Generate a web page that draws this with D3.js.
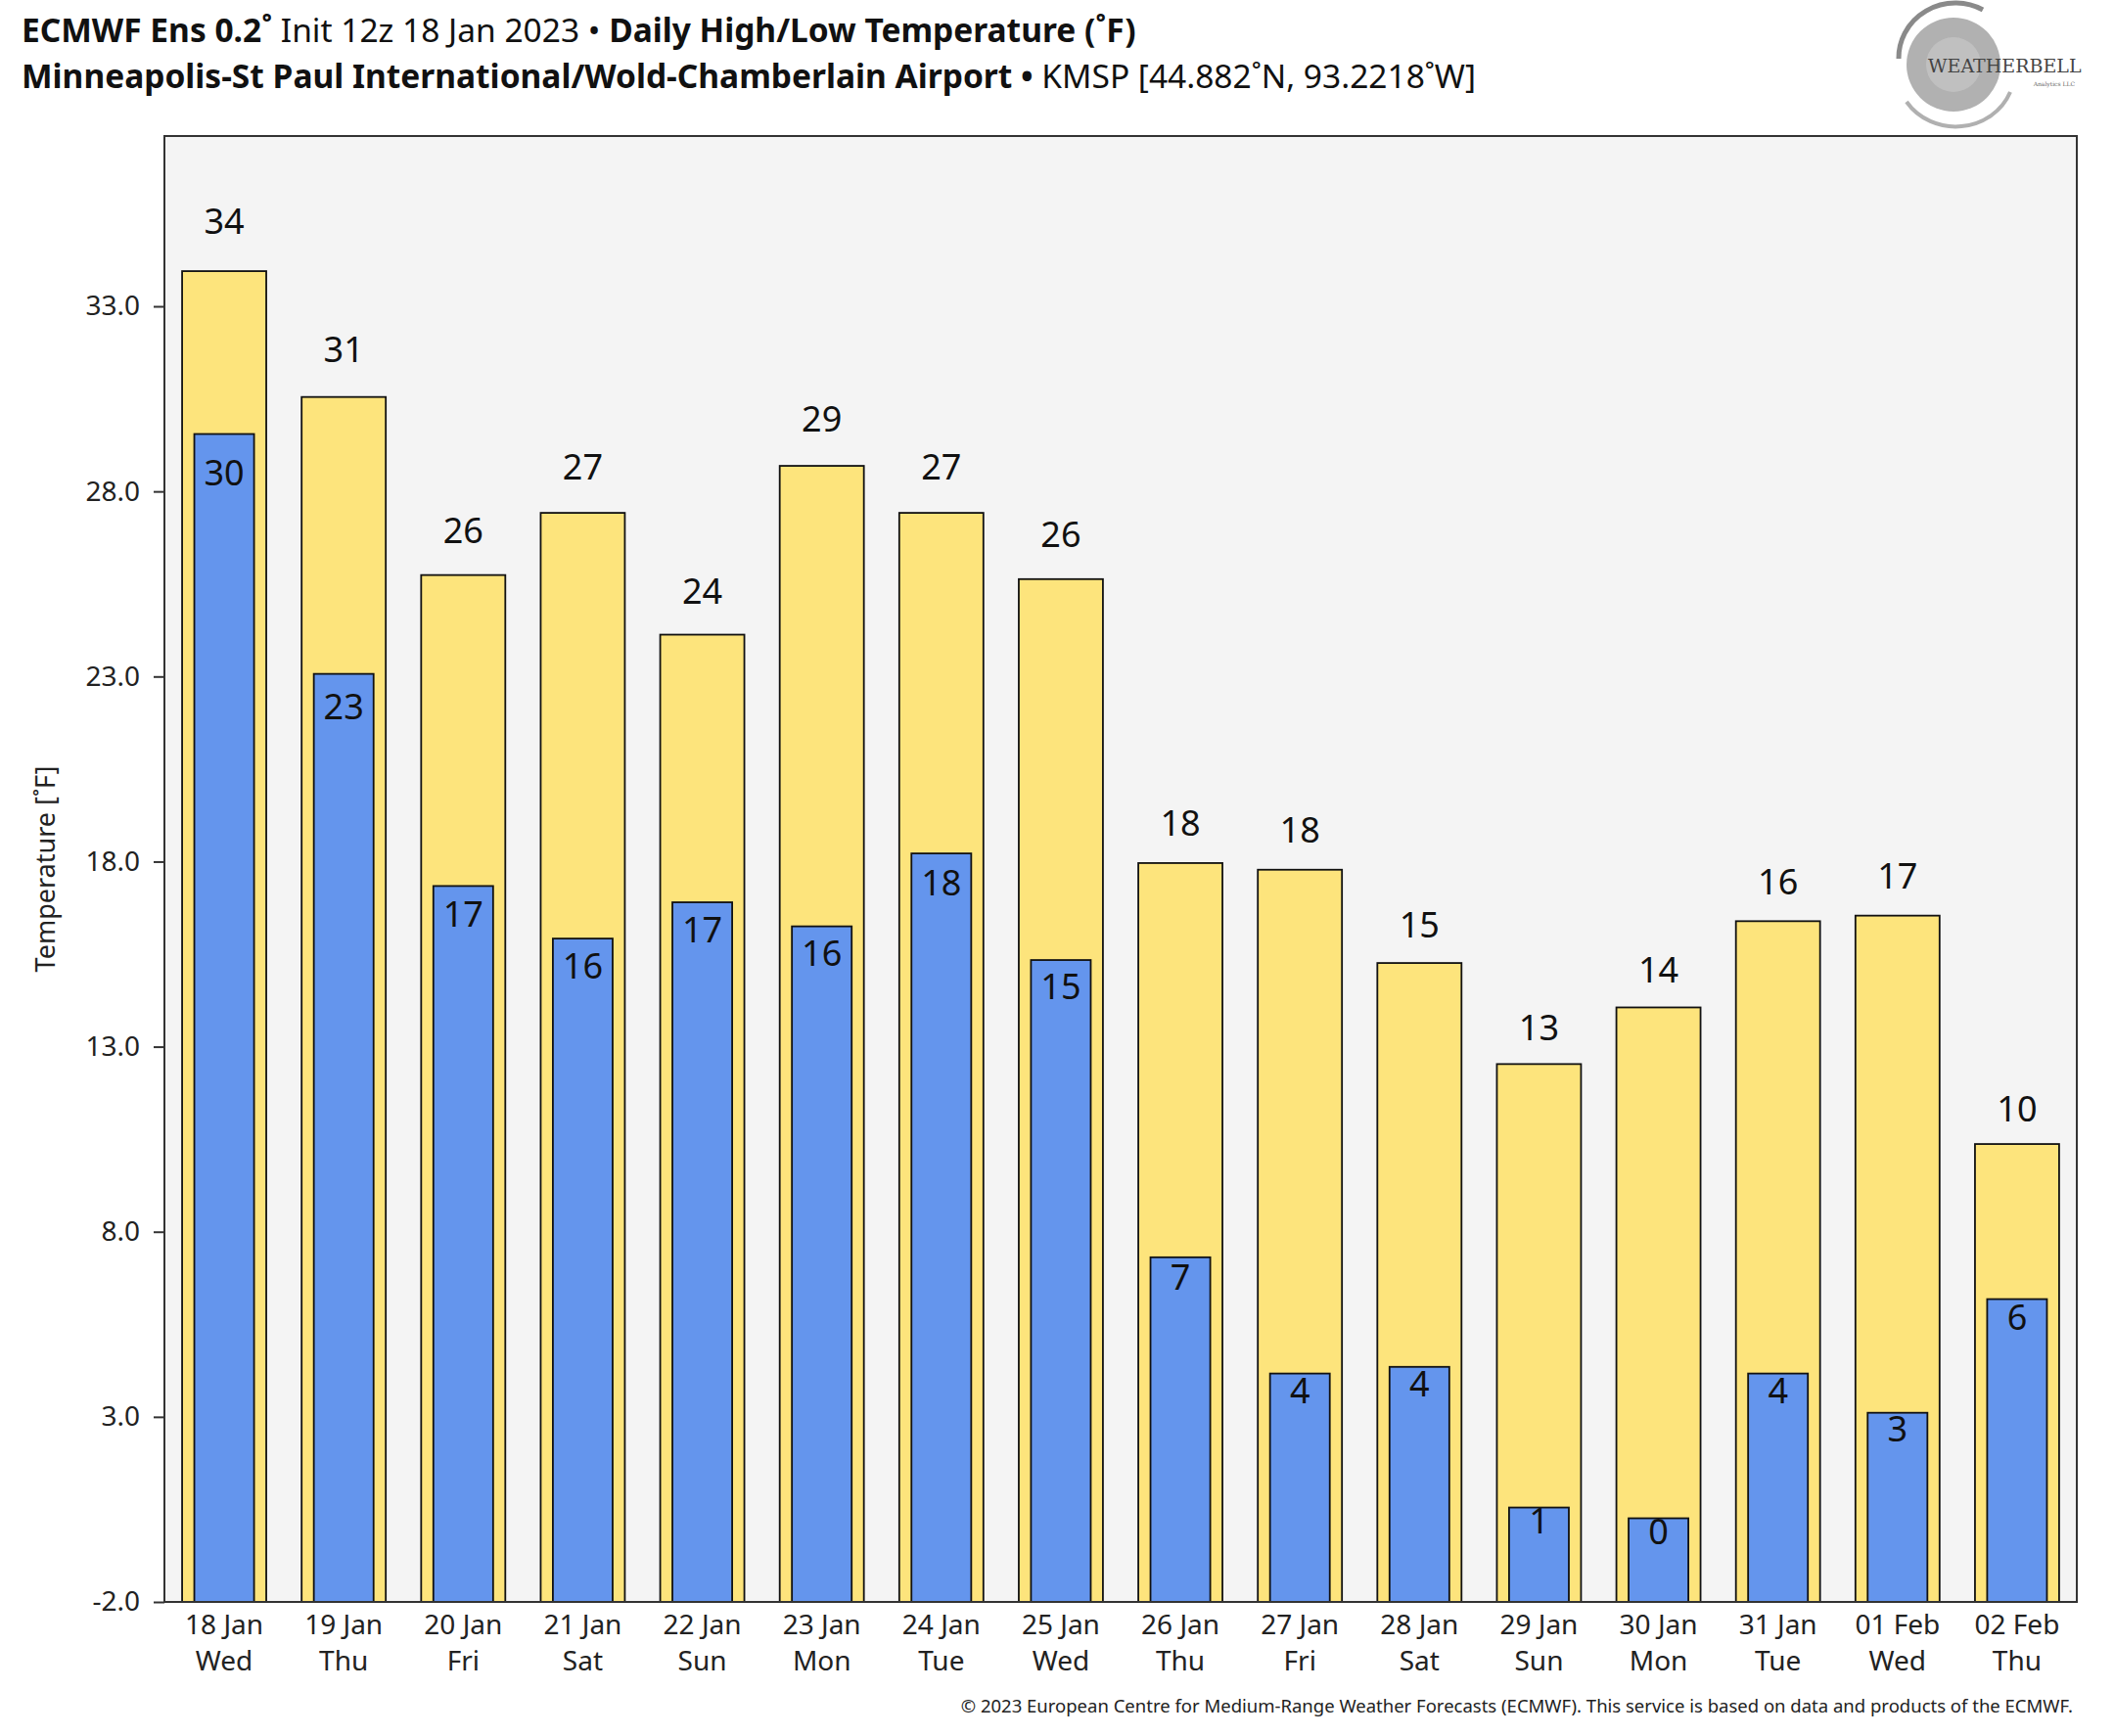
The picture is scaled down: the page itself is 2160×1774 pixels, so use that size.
<!DOCTYPE html>
<html>
<head>
<meta charset="utf-8">
<script src="https://cdn.jsdelivr.net/npm/d3@7"></script>
<style>
  html, body { margin: 0; padding: 0; background: #fff; }
  svg { display: block; font-family: 'Noto Sans', sans-serif; }
</style>
</head>
<body>
<svg id="chart" width="2160" height="1774"></svg>
<script>
// chart values
const dates = ['18 Jan', '19 Jan', '20 Jan', '21 Jan', '22 Jan', '23 Jan', '24 Jan', '25 Jan',
  '26 Jan', '27 Jan', '28 Jan', '29 Jan', '30 Jan', '31 Jan', '01 Feb', '02 Feb']
const weekdays = ['Wed', 'Thu', 'Fri', 'Sat', 'Sun', 'Mon', 'Tue', 'Wed',
  'Thu', 'Fri', 'Sat', 'Sun', 'Mon', 'Tue', 'Wed', 'Thu']
const highs = [33.95, 30.55, 25.74, 27.42, 24.13, 28.69, 27.42, 25.63,
  17.96, 17.78, 15.26, 12.53, 14.06, 16.39, 16.54, 10.37]
const lows = [29.55, 23.07, 17.34, 15.92, 16.9, 16.25, 18.22, 15.34,
  7.31, 4.17, 4.35, 0.55, 0.26, 4.17, 3.11, 6.18]
const yTicks = [-2, 3, 8, 13, 18, 23, 28, 33]

const width = 2160
const height = 1774
const margin = { top: 139, right: 38, bottom: 137, left: 168 }
const yMin = -2
const yMax = 37.6

const HIGH_COLOR = '#fde47c'
const LOW_COLOR = '#6495ed'
const PLOT_BG = '#f4f4f4'

const svg = d3.select('#chart')

const x = d3.scaleBand()
  .domain(dates)
  .range([margin.left, width - margin.right])
  .paddingInner(0)
  .paddingOuter(0)

const y = d3.scaleLinear()
  .domain([yMin, yMax])
  .range([height - margin.bottom, margin.top])

const highW = x.bandwidth() * 0.704
const lowW = x.bandwidth() * 0.5

// label offsets grow a little with bar height, as in the source plot
const barH = (v) => y(yMin) - y(v)
const highLabelY = (v) => y(v) - 16 - 0.016 * barH(v)
const lowLabelY = (v) => y(v) + 24.5 + 0.0235 * barH(v)

// Plot background
svg.append('rect')
  .attr('x', margin.left)
  .attr('y', margin.top)
  .attr('width', width - margin.left - margin.right)
  .attr('height', height - margin.top - margin.bottom)
  .attr('fill', PLOT_BG)

const rows = dates.map((d, i) => ({ date: d, day: weekdays[i], high: highs[i], low: lows[i] }))

// High (yellow) bars
svg.append('g').selectAll('rect')
  .data(rows)
  .join('rect')
  .attr('x', (d) => x(d.date) + (x.bandwidth() - highW) / 2)
  .attr('y', (d) => y(d.high))
  .attr('width', highW)
  .attr('height', (d) => barH(d.high))
  .attr('fill', HIGH_COLOR)
  .attr('stroke', '#111')
  .attr('stroke-width', 1.8)

// Low (blue) bars
svg.append('g').selectAll('rect')
  .data(rows)
  .join('rect')
  .attr('x', (d) => x(d.date) + (x.bandwidth() - lowW) / 2)
  .attr('y', (d) => y(d.low))
  .attr('width', lowW)
  .attr('height', (d) => barH(d.low))
  .attr('fill', LOW_COLOR)
  .attr('stroke', '#111')
  .attr('stroke-width', 1.8)

// Value labels
svg.append('g').selectAll('text')
  .data(rows)
  .join('text')
  .attr('x', (d) => x(d.date) + x.bandwidth() / 2)
  .attr('y', (d) => highLabelY(d.high))
  .attr('text-anchor', 'middle')
  .style('font-size', '36px')
  .attr('fill', '#111')
  .text((d) => Math.round(d.high))

svg.append('g').selectAll('text')
  .data(rows)
  .join('text')
  .attr('x', (d) => x(d.date) + x.bandwidth() / 2)
  .attr('y', (d) => lowLabelY(d.low))
  .attr('text-anchor', 'middle')
  .style('font-size', '36px')
  .attr('fill', '#111')
  .text((d) => Math.round(d.low))

// Frame
svg.append('rect')
  .attr('x', margin.left)
  .attr('y', margin.top)
  .attr('width', width - margin.left - margin.right)
  .attr('height', height - margin.top - margin.bottom)
  .attr('fill', 'none')
  .attr('stroke', '#333')
  .attr('stroke-width', 2)

// Y axis
const yAxis = svg.append('g')
  .attr('transform', `translate(${margin.left},0)`)
  .call(d3.axisLeft(y).tickValues(yTicks).tickFormat((d) => d.toFixed(1)).tickSize(11).tickPadding(14))
yAxis.select('.domain').remove()
yAxis.selectAll('line').attr('stroke', '#333').attr('stroke-width', 2)
yAxis.selectAll('text')
  .style('font-size', '28px')
  .style('font-family', "'Noto Sans', sans-serif")
  .attr('fill', '#222')

// X axis with two-line labels
const xAxis = svg.append('g')
  .attr('transform', `translate(0,${height - margin.bottom})`)
  .call(d3.axisBottom(x).tickSize(0).tickFormat(''))
xAxis.select('.domain').remove()
xAxis.selectAll('.tick').each(function (d, i) {
  const t = d3.select(this).append('text')
    .attr('fill', '#222')
    .attr('text-anchor', 'middle')
    .style('font-size', '28px')
    .style('font-family', "'Noto Sans', sans-serif")
  t.append('tspan').attr('x', 0).attr('y', 33).text(d)
  t.append('tspan').attr('x', 0).attr('y', 70).text(weekdays[i])
})

// Y axis title
svg.append('text')
  .attr('transform', `translate(56,${(margin.top + height - margin.bottom) / 2}) rotate(-90)`)
  .attr('text-anchor', 'middle')
  .style('font-size', '27px')
  .attr('fill', '#222')
  .text('Temperature [˚F]')

// Titles
const t1 = svg.append('text').attr('x', 22).attr('y', 43).style('font-size', '33.5px').attr('fill', '#111')
t1.append('tspan').style('font-weight', 700).text('ECMWF Ens 0.2˚')
t1.append('tspan').text(' Init 12z 18 Jan 2023 • ')
t1.append('tspan').style('font-weight', 700).text('Daily High/Low Temperature (˚F)')

const t2 = svg.append('text').attr('x', 22).attr('y', 90).style('font-size', '33.5px').attr('fill', '#111')
t2.append('tspan').style('font-weight', 700).text('Minneapolis-St Paul International/Wold-Chamberlain Airport •')
t2.append('tspan').text(' KMSP [44.882˚N, 93.2218˚W]')

// Footer
svg.append('text')
  .attr('x', 2118)
  .attr('y', 1750)
  .attr('text-anchor', 'end')
  .style('font-size', '18.5px')
  .attr('fill', '#222')
  .text('© 2023 European Centre for Medium-Range Weather Forecasts (ECMWF). This service is based on data and products of the ECMWF.')

// Logo (approximation)
const logo = svg.append('g').attr('transform', 'translate(1996,66)')
logo.append('circle').attr('r', 48).attr('fill', '#a3a3a3').attr('opacity', 0.85)
logo.append('path')
  .attr('d', 'M-56,-6 A58,56 0 0 1 30,-56')
  .attr('fill', 'none').attr('stroke', '#8a8a8a').attr('stroke-width', 5)
logo.append('path')
  .attr('d', 'M-48,38 A60,56 0 0 0 58,28')
  .attr('fill', 'none').attr('stroke', '#b0b0b0').attr('stroke-width', 4)
logo.append('circle').attr('r', 28).attr('fill', '#c4c4c4').attr('opacity', 0.8)
logo.append('text')
  .attr('x', -26).attr('y', 8)
  .style('font-family', "'DejaVu Serif', serif")
  .style('font-size', '19px')
  .attr('fill', '#444')
  .text('WEATHERBELL')
logo.append('text')
  .attr('x', 124).attr('y', 22)
  .attr('text-anchor', 'end')
  .style('font-family', "'DejaVu Serif', serif")
  .style('font-size', '6px')
  .attr('fill', '#666')
  .text('Analytics LLC')
</script>
</body>
</html>
